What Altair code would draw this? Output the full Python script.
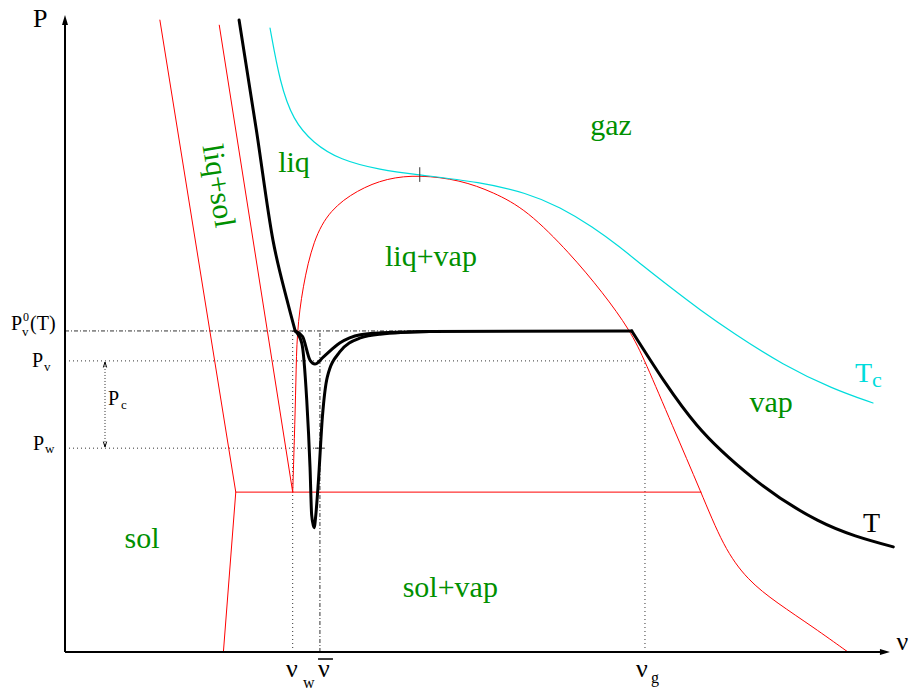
import altair as alt
import pandas as pd

# ---------------------------------------------------------------
# P-v phase diagram (arbitrary units: specific volume v, pressure P)
# ---------------------------------------------------------------

# solid / liquid+solid boundaries
SOL_V = [1.15, 2.07, 1.92]
SOL_P = [9.92, 2.51, 0.00]
LIQSOL_V = [1.87, 2.76]
LIQSOL_P = [9.84, 2.51]

# triple line
TRIPLE_V = [2.07, 7.71]
TRIPLE_P = [2.51, 2.51]

# liquid-vapour coexistence dome, continued by the solid-vapour boundary
DOME_V = [2.76, 2.78, 2.80, 2.81, 2.88, 3.01, 3.21, 3.54, 3.90, 4.30, 4.79, 5.19,
          5.60, 6.12, 6.52, 6.85, 7.03, 7.36, 7.71, 7.98, 8.27, 8.63, 9.07, 9.49]
DOME_P = [2.51, 3.33, 4.27, 5.01, 5.73, 6.47, 6.94, 7.25, 7.44, 7.49, 7.41, 7.22,
          6.94, 6.26, 5.64, 5.05, 4.57, 3.56, 2.51, 1.65, 1.13, 0.77, 0.39, 0.00]

# critical isotherm Tc
TC_V = [2.485, 2.606, 2.764, 3.006, 3.333, 3.818, 4.303, 5.030, 5.600, 6.000,
        6.400, 6.727, 7.006, 7.333, 7.697, 8.097, 8.703, 9.309, 9.794]
TC_P = [9.796, 8.932, 8.352, 7.991, 7.724, 7.567, 7.488, 7.378, 7.206, 6.986,
        6.672, 6.358, 6.060, 5.730, 5.369, 5.008, 4.505, 4.129, 3.909]

# isotherm T: liquid branch, two confined branches, plateau and vapour branch
T_LIQ_V = [2.11, 2.32, 2.52, 2.69, 2.79]
T_LIQ_P = [9.92, 8.19, 6.47, 5.53, 5.04]
T_SHALLOW_V = [2.79, 2.88, 2.97, 3.03, 3.13, 3.33, 3.58, 3.82, 4.42]
T_SHALLOW_P = [5.04, 4.95, 4.58, 4.52, 4.63, 4.85, 4.98, 5.01, 5.03]
T_DEEP_V = [2.79, 2.87, 2.93, 2.97, 2.99, 3.02, 3.04, 3.07, 3.12, 3.18, 3.33, 3.58,
            3.82, 4.42]
T_DEEP_P = [5.04, 4.85, 3.96, 2.90, 2.15, 1.95, 2.15, 2.65, 3.69, 4.32, 4.71, 4.93,
            4.99, 5.03]
T_PLATEAU_V = [4.42, 6.87]
T_PLATEAU_P = [5.03, 5.04]
T_VAP_V = [6.87, 7.66, 8.34, 9.12, 10.04]
T_VAP_P = [5.04, 3.56, 2.73, 2.07, 1.65]

# characteristic pressures and volumes
P_V0 = 5.04
P_V = 4.57
P_W = 3.20
NU_W = 2.76
NU_BAR = 3.09
NU_G = 7.03
NU_END = 6.87
CRIT_V, CRIT_P = 4.30, 7.49
PC_ARROW_V = 0.485

# ---------------------------------------------------------------
X_SCALE = alt.Scale(domain=[0, 10], range=[65, 890], nice=False, zero=False)
Y_SCALE = alt.Scale(domain=[0, 10], range=[652, 15], nice=False, zero=False)
X = alt.X("v:Q", scale=X_SCALE, axis=None)
Y = alt.Y("P:Q", scale=Y_SCALE, axis=None)

SERIF = "Liberation Serif"
RED = "#ff0000"
CYAN = "#00dcdc"
GREEN = "#009000"


def curve(vs, ps, name):
    return pd.DataFrame({"v": vs, "P": ps, "i": list(range(len(vs))), "curve": name})


def line(df, color, width, interp="linear", dash=None):
    kw = dict(color=color, strokeWidth=width, interpolate=interp, clip=False,
              strokeCap="round", strokeJoin="round")
    if dash:
        kw["strokeDash"] = dash
        kw["strokeCap"] = "butt"
    return alt.Chart(df).mark_line(**kw).encode(x=X, y=Y, order="i:Q", detail="curve:N")


def segments(rows, color, width, dash=None):
    df = pd.DataFrame(rows, columns=["v", "P", "v2", "P2"])
    kw = dict(color=color, strokeWidth=width)
    if dash:
        kw["strokeDash"] = dash
    return alt.Chart(df).mark_rule(**kw).encode(
        x=X, y=Y, x2=alt.X2("v2:Q"), y2=alt.Y2("P2:Q"))


def texts(rows, size, color, align="left", baseline="alphabetic", angle=0):
    df = pd.DataFrame(rows, columns=["v", "P", "label"])
    return alt.Chart(df).mark_text(
        font=SERIF, fontSize=size, color=color, align=align, baseline=baseline,
        angle=angle).encode(x=X, y=Y, text="label:N")


def arrowhead(v, p, shape, size, filled=True, color="black"):
    df = pd.DataFrame({"v": [v], "P": [p]})
    return alt.Chart(df).mark_point(
        shape=shape, size=size, filled=filled, color=color, opacity=1,
        strokeWidth=1).encode(x=X, y=Y)


layers = []

# guide lines
layers.append(segments([[0, P_V0, NU_END, P_V0], [NU_BAR, 0, NU_BAR, P_V0]],
                       "#333333", 1, dash=[4, 2, 1, 2]))
layers.append(segments([[0, P_V, NU_G, P_V], [0, P_W, NU_BAR, P_W],
                        [NU_W, 0, NU_W, P_V0], [NU_G, 0, NU_G, P_V]],
                       "#333333", 1, dash=[1, 3]))
layers.append(segments([[PC_ARROW_V, P_W + 0.05, PC_ARROW_V, P_V - 0.05]],
                       "#333333", 1, dash=[1, 2]))
layers.append(arrowhead(PC_ARROW_V, 4.51, "M-0.6,1L0,-1L0.6,1", 30, filled=False))
layers.append(arrowhead(PC_ARROW_V, 3.26, "M-0.6,-1L0,1L0.6,-1", 30, filled=False))
layers.append(segments([[3.03, P_W, 3.15, P_W]], "#333333", 1))

# phase boundaries
layers.append(line(curve(SOL_V, SOL_P, "sol"), RED, 1))
layers.append(line(curve(LIQSOL_V, LIQSOL_P, "liqsol"), RED, 1))
layers.append(line(curve(TRIPLE_V, TRIPLE_P, "triple"), RED, 1))
layers.append(line(curve(DOME_V, DOME_P, "dome"), RED, 1, interp="basis"))

# critical isotherm
layers.append(line(curve(TC_V, TC_P, "tc"), CYAN, 1.2, interp="basis"))

# critical point marker
layers.append(segments([[CRIT_V, CRIT_P - 0.11, CRIT_V, CRIT_P + 0.12]], "#333333", 1))

# isotherm T
layers.append(line(curve(T_LIQ_V, T_LIQ_P, "tliq"), "black", 3, interp="monotone"))
layers.append(line(curve(T_SHALLOW_V, T_SHALLOW_P, "tsh"), "black", 3, interp="monotone"))
layers.append(line(curve(T_DEEP_V, T_DEEP_P, "tdeep"), "black", 3, interp="monotone"))
layers.append(line(curve(T_PLATEAU_V, T_PLATEAU_P, "tplat"), "black", 3))
layers.append(line(curve(T_VAP_V, T_VAP_P, "tvap"), "black", 3, interp="monotone"))

# axes with arrows
layers.append(segments([[0, 0, 9.94, 0], [0, 0, 0, 9.92]], "black", 2))
layers.append(arrowhead(9.939, 0, "M1,0L-1,-0.6L-1,0.6Z", 100))
layers.append(arrowhead(0, 9.92, "M0,-1L-0.6,1L0.6,1Z", 100))

# region names
layers.append(texts([[6.618, 8.116, "gaz"], [2.776, 7.535, "liq"],
                     [4.436, 6.060, "liq+vap"], [8.558, 3.768, "vap"],
                     [0.933, 1.633, "sol"], [4.670, 0.863, "sol+vap"]],
                    30, GREEN, align="center"))
layers.append(texts([[1.855, 7.316, "liq+sol"]], 30, GREEN, align="center",
                    baseline="middle", angle=81))

# isotherm names
layers.append(texts([[9.576, 4.239, "T"]], 28, CYAN))
layers.append(texts([[9.782, 4.160, "c"]], 22, CYAN))
layers.append(texts([[9.673, 1.884, "T"]], 28, "black"))

# axis titles
layers.append(texts([[-0.388, 9.81, "P"], [10.08, 0.03, "ν"]], 26, "black"))

# pressure labels
layers.append(texts([[-0.655, 5.055, "P"], [-0.424, 5.055, "(T)"],
                     [-0.400, 4.474, "P"], [0.521, 3.878, "P"],
                     [-0.388, 3.171, "P"]], 20, "black"))
layers.append(texts([[-0.521, 4.960, "v"], [-0.255, 4.411, "v"],
                     [0.679, 3.815, "c"], [-0.242, 3.124, "w"]], 13, "black"))
layers.append(texts([[-0.509, 5.197, "0"]], 12, "black"))

# volume labels
layers.append(texts([[2.679, -0.392, "ν"], [3.067, -0.392, "ν"],
                     [6.921, -0.392, "ν"]], 26, "black"))
layers.append(texts([[2.885, -0.565, "w"], [7.103, -0.487, "g"]], 16, "black"))
layers.append(segments([[3.067, -0.11, 3.248, -0.11]], "black", 1.5))

chart = alt.layer(*layers).properties(
    width=912, height=692, padding=0, autosize="none"
).configure_view(stroke=None)

chart.save("out.html", embed_options={"renderer": "svg", "actions": False})
